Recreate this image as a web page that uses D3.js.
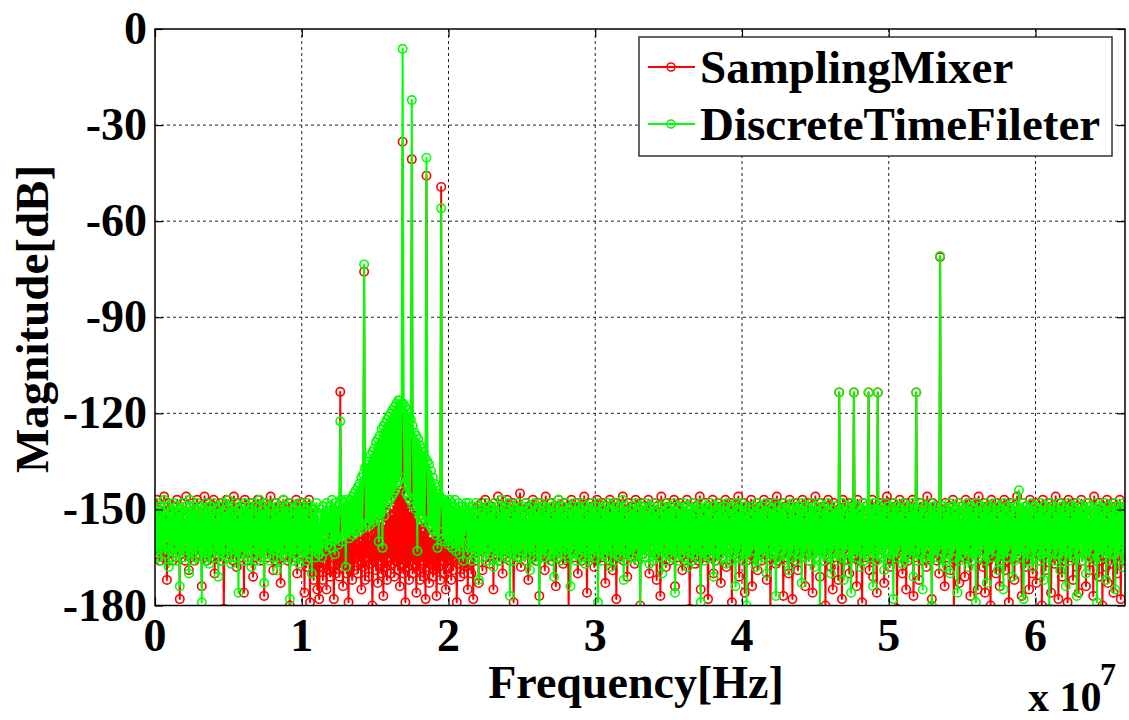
<!DOCTYPE html>
<html><head><meta charset="utf-8">
<script src="https://cdn.jsdelivr.net/npm/d3@7"></script>
<style>
body{margin:0;background:#fff}
svg{display:block}
text{font-family:"Liberation Serif","Times New Roman",serif;font-weight:bold;fill:#000}
</style>
</head><body>
<svg id="chart" width="1129" height="720"></svg>
<script>
// ---- data ----
const seriesNames = ["SamplingMixer", "DiscreteTimeFileter"];
const seriesColors = ["#ff0000", "#00ff00"];
const binHz = 6.25e4; // FFT bin spacing
const xTickValues = [0, 1e7, 2e7, 3e7, 4e7, 5e7, 6e7];
const xTickLabels = ["0", "1", "2", "3", "4", "5", "6"];
const yTickValues = [0, -30, -60, -90, -120, -150, -180];
const yTickLabels = ["0", "-30", "-60", "-90", "-120", "-150", "-180"];

const samplingMixerDb = [
-153,-164,-147,-162,-150,-166,-149,-161,-152,-165,-146,-163,-151,-172,-148,-164,-150,-162,-153,-166,
-149,-161,-151,-165,-147,-163,-152,-178,-150,-164,-148,-162,-153,-166,-146,-161,-151,-169,-149,-165,
-152,-163,-148,-166,-150,-162,-147,-164,-153,-161,-149,-174,-151,-165,-146,-163,-152,-166,-148,-162,
-150,-165,-153,-161,-147,-170,-151,-164,-149,-162,-152,-166,-148,-163,-150,-181,-153,-165,-147,-161,
-151,-164,-149,-162,-152,-166,-146,-163,-150,-168,-148,-161,-153,-165,-149,-164,-151,-176,-147,-162,
-152,-166,-150,-163,-148,-161,-153,-171,-149,-165,-151,-162,-147,-164,-152,-166,-150,-163,-148,-177,
-153,-161,-149,-165,-151,-162,-146,-164,-152,-169,-150,-166,-148,-163,-153,-161,-149,-173,-151,-165,
-147,-162,-152,-164,-150,-166,-148,-180,-153,-163,-149,-161,-151,-165,-147,-170,-152,-164,-150,-162,
-148,-163,-153,-176,-149,-168,-151,-161,-147,-179,-152,-165,-150,-172,-155,-169,-158,-175,-156,-178,
-160,-168,-157,-172,-161,-166,-158,-175,-162,-169,-156,-171,-160,-165,-157,-178,-161,-170,-158,-167,
-162,-171,-113.3,-168,-159,-174,-160,-166,-157,-170,-161,-179,-158,-167,-160,-172,-156,-169,-159,-165,
-161,-170,-157,-166,-160,-175,-158,-168,-75.8,-172,-159,-165,-156,-171,-160,-167,-155,-180,-158,-166,
-154,-169,-157,-173,-153,-166,-156,-170,-152,-177,-155,-168,-151,-172,-153,-165,-150,-170,-152,-167,
-149,-171,-147,-166,-146,-169,-145,-174,-144,-167,-35.2,-170,-146,-179,-148,-168,-150,-172,-151,-166,
-40.7,-170,-152,-167,-153,-176,-154,-169,-155,-172,-156,-166,-157,-171,-156,-178,-45.8,-168,-158,-173,
-159,-167,-158,-171,-160,-169,-157,-177,-161,-168,-159,-172,-49.3,-166,-160,-170,-158,-175,-161,-168,
-159,-166,-162,-172,-158,-169,-161,-165,-157,-179,-160,-167,-156,-171,-159,-166,-155,-170,-158,-168,
-154,-175,-157,-164,-152,-170,-155,-178,-151,-166,-153,-161,-149,-173,-152,-163,-148,-169,-151,-160,
-147,-165,-150,-162,-153,-167,-149,-161,-152,-175,-148,-164,-151,-163,-146,-166,-150,-162,-153,-170,
-149,-163,-151,-165,-147,-161,-152,-166,-150,-164,-148,-179,-153,-162,-149,-165,-151,-163,-145,-168,
-152,-161,-150,-166,-148,-164,-153,-172,-149,-162,-151,-165,-147,-163,-152,-166,-150,-161,-148,-177,
-153,-164,-149,-162,-151,-169,-146,-165,-152,-163,-150,-161,-148,-166,-153,-164,-149,-174,-151,-162,
-147,-165,-152,-163,-150,-167,-148,-161,-153,-166,-149,-182,-151,-164,-147,-162,-152,-165,-150,-163,
-148,-170,-153,-161,-149,-166,-151,-164,-146,-162,-152,-176,-150,-165,-148,-163,-153,-161,-149,-168,
-151,-166,-147,-164,-152,-162,-150,-165,-148,-163,-153,-173,-149,-161,-151,-166,-147,-164,-152,-169,
-150,-162,-148,-178,-153,-165,-149,-163,-151,-161,-146,-166,-152,-164,-150,-171,-148,-162,-153,-165,
-149,-163,-151,-167,-147,-161,-152,-166,-150,-180,-148,-164,-153,-162,-149,-165,-151,-163,-147,-170,
-152,-161,-150,-166,-148,-164,-153,-172,-149,-162,-151,-177,-146,-165,-152,-163,-150,-168,-148,-161,
-153,-166,-149,-164,-151,-162,-147,-174,-152,-165,-150,-163,-148,-161,-153,-169,-149,-166,-151,-164,
-147,-162,-152,-181,-150,-165,-148,-163,-153,-167,-149,-161,-151,-166,-146,-175,-152,-164,-150,-162,
-148,-165,-153,-178,-149,-163,-151,-161,-147,-170,-152,-166,-150,-164,-148,-162,-153,-173,-149,-165,
-151,-163,-147,-168,-152,-161,-150,-166,-148,-179,-153,-164,-149,-162,-151,-165,-146,-171,-152,-163,
-150,-161,-148,-176,-153,-166,-149,-164,-151,-162,-147,-174,-152,-165,-150,-163,-148,-169,-153,-161,
-149,-166,-151,-164,-147,-162,-152,-172,-150,-165,-148,-182,-153,-163,-149,-161,-151,-167,-146,-166,
-152,-164,-150,-162,-148,-177,-153,-165,-149,-163,-151,-170,-147,-161,-152,-178,-150,-166,-148,-164,
-153,-169,-149,-162,-151,-165,-147,-163,-152,-174,-150,-161,-148,-166,-153,-164,-149,-176,-151,-162,
-146,-165,-152,-163,-150,-171,-148,-161,-153,-166,-149,-180,-151,-164,-147,-162,-152,-168,-150,-175,
-148,-165,-153,-163,-149,-172,-113.5,-161,-151,-178,-147,-166,-152,-164,-150,-162,-148,-170,-153,-165,
-149,-163,-113.5,-161,-151,-174,-147,-166,-152,-164,-150,-179,-148,-162,-153,-165,-149,-163,-113.5,-169,
-151,-161,-147,-171,-152,-166,-150,-176,-113.5,-164,-148,-162,-153,-165,-149,-173,-151,-163,-146,-161,
-152,-168,-150,-166,-148,-164,-153,-162,-149,-181,-151,-165,-147,-163,-152,-170,-150,-161,-148,-175,
-153,-166,-149,-164,-151,-162,-147,-177,-152,-165,-113.5,-163,-150,-172,-148,-161,-153,-166,-149,-164,
-151,-168,-146,-162,-152,-165,-150,-178,-148,-163,-153,-161,-149,-166,-151,-170,-71.2,-164,-152,-162,
-150,-174,-148,-165,-153,-163,-149,-169,-151,-161,-147,-182,-152,-166,-150,-164,-148,-173,-153,-162,
-149,-165,-151,-171,-147,-163,-152,-161,-150,-177,-148,-166,-153,-164,-149,-162,-151,-175,-146,-165,
-152,-163,-150,-168,-148,-176,-153,-161,-149,-166,-151,-180,-147,-164,-152,-162,-150,-170,-148,-165,
-153,-174,-149,-163,-151,-161,-147,-169,-152,-166,-150,-179,-148,-164,-153,-162,-149,-172,-151,-165,
-146,-163,-152,-161,-150,-177,-148,-166,-153,-168,-149,-164,-151,-175,-147,-162,-152,-170,-150,-165,
-148,-173,-153,-163,-149,-166,-151,-180,-147,-161,-152,-169,-150,-164,-148,-162,-153,-176,-149,-165,
-151,-167,-146,-163,-152,-178,-150,-161,-148,-171,-153,-166,-149,-164,-151,-179,-147,-162,-152,-165,
-150,-172,-148,-163,-153,-168,-149,-176,-151,-161,-147,-166,-152,-164,-150,-174,-148,-162,-153,-169,
-149,-165,-151,-177,-146,-163,-152,-161,-150,-171,-148,-166,-153,-180,-149,-164,-151,-168,-147,-173,
-152,-162,-150,-167,-148,-176,-153,-165,-149,-170,-151,-163,-147,-178,-152,-161,-150,-166
];

const discreteTimeFilterDb = [
-150,-163,-148,-165,-152,-161,-149,-166,-151,-162,-147,-164,-153,-160,-149,-168,-151,-163,-150,-165,
-148,-161,-152,-166,-149,-163,-151,-174,-150,-162,-148,-165,-153,-161,-149,-164,-151,-170,-147,-163,
-152,-166,-149,-162,-150,-165,-148,-161,-153,-164,-149,-179,-151,-163,-150,-166,-148,-162,-152,-167,
-149,-164,-151,-161,-148,-165,-153,-163,-150,-171,-149,-162,-152,-166,-148,-164,-151,-161,-150,-165,
-147,-163,-152,-167,-149,-162,-151,-165,-148,-161,-153,-176,-150,-164,-149,-163,-152,-166,-148,-162,
-151,-165,-149,-163,-150,-168,-148,-161,-153,-164,-149,-166,-151,-162,-147,-165,-152,-163,-150,-173,
-148,-164,-151,-162,-149,-166,-153,-161,-150,-165,-148,-163,-152,-169,-149,-162,-151,-166,-150,-164,
-147,-161,-152,-165,-149,-163,-151,-178,-148,-162,-153,-166,-150,-164,-149,-161,-151,-167,-148,-163,
-152,-165,-149,-162,-150,-166,-148,-164,-153,-161,-149,-170,-151,-163,-150,-165,-148,-162,-152,-164,
-160,-150,-165,-149,-158,-152,-163,-148,-161,-151,-157,-149,-162,-147,-160,-150,-164,-148,-159,-151,
-161,-149,-122.5,-147,-160,-150,-158,-148,-168,-147,-157,-149,-159,-147,-156,-146,-158,-145,-157,-144,
-156,-143,-157,-142,-155,-140,-156,-139,-73.5,-137,-155,-136,-154,-135,-155,-133,-153,-132,-154,-131,
-153,-129,-152,-128,-160,-127,-151,-125,-162,-124,-152,-123,-149,-122,-148,-121,-147,-120,-146,-119,
-145,-118,-144,-117,-142,-116,-141,-116,-140,-117,-6.2,-117,-142,-118,-145,-119,-146,-120,-147,-122,
-22.2,-124,-149,-126,-150,-127,-163,-128,-152,-130,-152,-131,-153,-132,-154,-134,-40.2,-135,-154,-136,
-155,-138,-156,-140,-157,-142,-158,-143,-162,-145,-157,-146,-56,-147,-159,-147,-160,-148,-158,-149,
-161,-147,-160,-148,-162,-149,-159,-147,-163,-150,-161,-148,-164,-151,-160,-149,-166,-150,-158,-148,
-150,-164,-148,-162,-152,-166,-149,-161,-151,-165,-148,-163,-153,-172,-149,-162,-151,-165,-150,-163,
-148,-166,-152,-161,-149,-164,-151,-163,-150,-168,-148,-162,-153,-165,-149,-161,-151,-166,-147,-164,
-152,-162,-149,-165,-150,-163,-148,-177,-153,-161,-149,-166,-151,-164,-150,-162,-148,-165,-152,-163,
-149,-161,-151,-166,-148,-164,-153,-162,-150,-169,-149,-163,-152,-165,-148,-161,-151,-166,-150,-183,
-148,-164,-152,-162,-149,-165,-151,-163,-150,-161,-148,-166,-153,-164,-149,-171,-151,-162,-150,-165,
-147,-163,-152,-166,-149,-161,-151,-164,-148,-162,-153,-165,-150,-174,-149,-163,-152,-161,-148,-166,
-151,-164,-149,-162,-150,-165,-148,-163,-153,-167,-149,-161,-151,-166,-150,-164,-148,-162,-152,-165,
-149,-163,-151,-179,-148,-161,-153,-166,-150,-164,-149,-162,-152,-165,-148,-163,-151,-168,-150,-161,
-148,-166,-152,-164,-149,-162,-151,-165,-150,-163,-147,-172,-153,-161,-149,-166,-151,-164,-150,-162,
-152,-165,-149,-163,-148,-161,-151,-166,-150,-182,-149,-164,-153,-162,-148,-165,-151,-163,-150,-167,
-149,-161,-152,-166,-148,-164,-151,-162,-150,-165,-153,-163,-149,-170,-151,-161,-148,-166,-152,-164,
-150,-162,-149,-165,-151,-163,-148,-176,-153,-161,-149,-166,-150,-164,-152,-162,-148,-165,-151,-163,
-149,-168,-152,-161,-150,-166,-148,-164,-151,-162,-153,-165,-149,-163,-150,-179,-148,-161,-152,-166,
-151,-164,-149,-162,-150,-165,-148,-163,-153,-171,-149,-161,-151,-166,-150,-164,-148,-162,-152,-165,
-149,-163,-151,-167,-148,-161,-153,-166,-150,-164,-149,-162,-152,-174,-148,-165,-151,-163,-150,-161,
-148,-166,-152,-164,-149,-180,-151,-162,-150,-165,-153,-163,-149,-161,-151,-168,-148,-166,-152,-164,
-150,-162,-149,-165,-151,-163,-148,-170,-153,-161,-149,-166,-150,-164,-152,-162,-148,-177,-151,-165,
-149,-163,-152,-161,-150,-166,-148,-164,-151,-162,-153,-169,-149,-165,-150,-163,-148,-161,-152,-166,
-151,-164,-149,-162,-150,-173,-148,-165,-153,-163,-149,-161,-151,-166,-150,-164,-148,-162,-152,-168,
-149,-165,-151,-163,-148,-181,-153,-161,-150,-166,-149,-164,-152,-162,-148,-165,-151,-170,-150,-163,
-152,-161,-149,-166,-151,-164,-113.5,-162,-150,-165,-148,-172,-153,-163,-149,-161,-151,-166,-150,-176,
-148,-164,-113.5,-162,-152,-165,-149,-163,-151,-168,-150,-161,-148,-166,-153,-164,-149,-162,-113.5,-165,
-151,-163,-150,-174,-148,-161,-152,-166,-113.5,-164,-149,-162,-151,-165,-150,-169,-148,-163,-153,-161,
-149,-166,-151,-164,-150,-178,-148,-162,-152,-165,-149,-163,-151,-161,-150,-167,-148,-166,-153,-164,
-149,-162,-151,-165,-150,-163,-148,-171,-152,-161,-113.5,-166,-151,-164,-150,-162,-148,-175,-153,-165,
-149,-163,-151,-161,-150,-166,-148,-180,-152,-164,-149,-162,-151,-165,-150,-163,-70.9,-161,-153,-168,
-149,-166,-151,-164,-150,-162,-148,-170,-152,-165,-149,-163,-151,-161,-150,-176,-148,-166,-153,-164,
-149,-162,-151,-165,-150,-163,-148,-168,-152,-161,-149,-166,-151,-164,-150,-179,-148,-162,-153,-165,
-149,-163,-151,-161,-150,-166,-148,-173,-152,-164,-149,-162,-151,-165,-150,-163,-148,-161,-153,-169,
-149,-166,-151,-164,-150,-175,-148,-162,-152,-165,-149,-163,-151,-161,-150,-171,-148,-166,-153,-164,
-149,-162,-144,-165,-150,-163,-148,-178,-152,-161,-149,-166,-151,-164,-150,-162,-148,-168,-153,-165,
-149,-163,-151,-161,-150,-166,-148,-164,-152,-172,-149,-162,-151,-165,-150,-181,-148,-163,-153,-161,
-149,-166,-151,-164,-150,-162,-148,-169,-152,-165,-149,-163,-151,-174,-150,-161,-148,-166,-153,-164,
-149,-162,-151,-165,-150,-177,-148,-163,-152,-161,-149,-166,-151,-164,-150,-170,-148,-162,-153,-165,
-149,-163,-151,-161,-150,-166,-148,-179,-152,-164,-149,-162,-151,-165,-150,-163,-148,-172,-153,-161,
-149,-166,-151,-164,-150,-162,-148,-175,-152,-165,-149,-163,-151,-161,-150,-168,-148,-164
];

// ---- layout ----
const svg = d3.select("#chart");
const L = 155, R = 1125, T = 29, B = 605.5;
const x = d3.scaleLinear().domain([0, 6.61e7]).range([L, R]);
const y = d3.scaleLinear().domain([-180, 0]).range([B, T]);

svg.append("defs").append("clipPath").attr("id", "plotclip")
  .append("rect").attr("x", L).attr("y", T - 6).attr("width", R - L).attr("height", B - T + 6);

// grid
const grid = svg.append("g").attr("stroke", "#222").attr("stroke-width", 1).attr("stroke-dasharray", "3,3");
xTickValues.slice(1).forEach(v => grid.append("line").attr("x1", x(v)).attr("x2", x(v)).attr("y1", T).attr("y2", B));
yTickValues.slice(1, -1).forEach(v => grid.append("line").attr("x1", L).attr("x2", R).attr("y1", y(v)).attr("y2", y(v)));

// series
const allSeries = [samplingMixerDb, discreteTimeFilterDb];
const dataG = svg.append("g").attr("clip-path", "url(#plotclip)");
allSeries.forEach((vals, si) => {
  const pts = vals.map((v, i) => [i * binHz, v]);
  const g = dataG.append("g");
  g.append("path").datum(pts)
    .attr("fill", "none").attr("stroke", seriesColors[si]).attr("stroke-width", 2)
    .attr("stroke-linejoin", "round")
    .attr("d", d3.line().x(d => x(d[0])).y(d => y(Math.max(d[1], -200))));
  g.selectAll("circle").data(pts.filter(d => d[1] >= -181)).join("circle")
    .attr("cx", d => x(d[0])).attr("cy", d => y(d[1])).attr("r", 4.2)
    .attr("fill", "none").attr("stroke", seriesColors[si]).attr("stroke-width", 1.6);
});

// axes box with inward ticks
const axG = svg.append("g");
axG.append("rect").attr("x", L).attr("y", T).attr("width", R - L).attr("height", B - T)
  .attr("fill", "none").attr("stroke", "#000").attr("stroke-width", 1.5);
const bottomAxis = d3.axisBottom(x).tickValues(xTickValues).tickSizeInner(-8).tickSizeOuter(0).tickFormat("");
const topAxis = d3.axisTop(x).tickValues(xTickValues).tickSizeInner(-8).tickSizeOuter(0).tickFormat("");
const leftAxis = d3.axisLeft(y).tickValues(yTickValues).tickSizeInner(-8).tickSizeOuter(0).tickFormat("");
const rightAxis = d3.axisRight(y).tickValues(yTickValues).tickSizeInner(-8).tickSizeOuter(0).tickFormat("");
[[bottomAxis, `translate(0,${B})`], [topAxis, `translate(0,${T})`], [leftAxis, `translate(${L},0)`], [rightAxis, `translate(${R},0)`]]
  .forEach(([ax, tr]) => {
    const g = axG.append("g").attr("transform", tr).call(ax);
    g.select(".domain").remove();
    g.selectAll("line").attr("stroke", "#000").attr("stroke-width", 1.2);
  });

// tick labels
svg.append("g").selectAll("text").data(xTickValues).join("text")
  .attr("x", d => x(d)).attr("y", 651).attr("text-anchor", "middle")
  .attr("font-size", 46).text((d, i) => xTickLabels[i]);
svg.append("g").selectAll("text").data(yTickValues).join("text")
  .attr("x", 147).attr("y", d => y(d) + 15).attr("text-anchor", "end")
  .attr("font-size", 46).text((d, i) => yTickLabels[i]);

// axis titles
svg.append("text").attr("x", 636).attr("y", 698).attr("text-anchor", "middle")
  .attr("font-size", 46).text("Frequency[Hz]");
svg.append("text").attr("transform", "translate(48,319) rotate(-90)").attr("text-anchor", "middle")
  .attr("font-size", 47).text("Magnitude[dB]");
svg.append("text").attr("x", 1028).attr("y", 711).attr("font-size", 42).text("x 10");
svg.append("text").attr("x", 1100).attr("y", 685).attr("font-size", 32).text("7");

// legend
const lg = svg.append("g");
lg.append("rect").attr("x", 639).attr("y", 37).attr("width", 473).attr("height", 119)
  .attr("fill", "#fff").attr("stroke", "#333").attr("stroke-width", 1.5);
const legY = [67, 124];
seriesNames.forEach((name, i) => {
  lg.append("line").attr("x1", 648).attr("x2", 695).attr("y1", legY[i]).attr("y2", legY[i])
    .attr("stroke", seriesColors[i]).attr("stroke-width", 2);
  lg.append("circle").attr("cx", 671).attr("cy", legY[i]).attr("r", 4)
    .attr("fill", "none").attr("stroke", seriesColors[i]).attr("stroke-width", 1.6);
  lg.append("text").attr("x", 700).attr("y", legY[i] + 16).attr("font-size", 47).text(name);
});
</script>
</body></html>
